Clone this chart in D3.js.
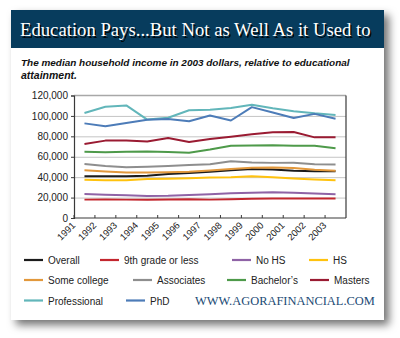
<!DOCTYPE html>
<html>
<head>
<meta charset="utf-8">
<script src="https://cdn.jsdelivr.net/npm/d3@7"></script>
<style>
  html, body { margin: 0; padding: 0; background: #ffffff; }
  svg { display: block; }
</style>
</head>
<body>
<svg id="chart" width="400" height="338"></svg>
<script>
// Median household income (2003 dollars) by educational attainment
const years = [1991, 1992, 1993, 1994, 1995, 1996, 1997, 1998, 1999, 2000, 2001, 2002, 2003];
const overall      = [40800, 40800, 40800, 41300, 43000, 44100, 45300, 46800, 48000, 47500, 46300, 45800, 45700];
const ninthOrLess  = [18000, 18200, 18000, 17900, 18100, 18300, 18000, 18300, 18800, 19000, 19000, 19000, 19100];
const noHS         = [23500, 22800, 22200, 21600, 21800, 22600, 23300, 24200, 24800, 25300, 24800, 24000, 23200];
const hs           = [37500, 37000, 37000, 38100, 38500, 39000, 39600, 39800, 40800, 40000, 38600, 37600, 36900];
const someCollege  = [46700, 45500, 44600, 44600, 44800, 45200, 46500, 48000, 49300, 49500, 49000, 47300, 46400];
const associates   = [53000, 51000, 49700, 50300, 51000, 52000, 52700, 55500, 54400, 54000, 54200, 52600, 52500];
const bachelors    = [64800, 64500, 64800, 65200, 64600, 64000, 67000, 70800, 71000, 71300, 70800, 70700, 68400];
const masters      = [72500, 75800, 76000, 75000, 78300, 74500, 77400, 79500, 82000, 83900, 84200, 79000, 79000];
const professional = [102800, 109000, 110300, 96400, 98200, 105500, 106100, 107800, 111000, 107500, 104500, 102500, 101000];
const phd          = [92700, 89800, 93100, 96300, 97000, 94700, 100400, 95500, 108600, 103400, 98000, 102000, 97300];

const seriesNames  = ["Overall", "9th grade or less", "No HS", "HS", "Some college", "Associates", "Bachelor\u2019s", "Masters", "Professional", "PhD"];
const seriesValues = [overall, ninthOrLess, noHS, hs, someCollege, associates, bachelors, masters, professional, phd];
const seriesColors = ["#1b1b1b", "#c3262e", "#8f63a6", "#ffc20e", "#e2983c", "#8e8e8e", "#4e9a4a", "#9a1b32", "#62b6ba", "#4d7cb8"];
const yTicks = [0, 20000, 40000, 60000, 80000, 100000, 120000];

const titleText = "Education Pays...But Not as Well As it Used to";
const subtitleLines = ["The median household income in 2003 dollars, relative to educational", "attainment."];
const siteText = "WWW.AGORAFINANCIAL.COM";

const svg = d3.select("#chart");
const sans = "'Liberation Sans', Arial, sans-serif";
const serif = "'Liberation Serif', 'Times New Roman', serif";

// ---- card with drop shadow ----
const defs = svg.append("defs");
const shadow = defs.append("filter").attr("id", "cardShadow")
  .attr("x", "-10%").attr("y", "-10%").attr("width", "125%").attr("height", "125%");
shadow.append("feDropShadow").attr("dx", 5).attr("dy", 5).attr("stdDeviation", 4)
  .attr("flood-color", "#000").attr("flood-opacity", 0.55);
const txtShadow = defs.append("filter").attr("id", "txtShadow");
txtShadow.append("feGaussianBlur").attr("stdDeviation", 0.6);

svg.append("rect").attr("x", 11).attr("y", 10).attr("width", 373).attr("height", 310)
  .attr("fill", "#ffffff").attr("filter", "url(#cardShadow)");

// header band
svg.append("rect").attr("x", 11).attr("y", 10).attr("width", 373).attr("height", 38)
  .attr("fill", "#073c5d");

function fitText(sel, targetWidth, baseSize) {
  sel.attr("font-size", baseSize);
  const w = sel.node().getComputedTextLength();
  if (w > 0) sel.attr("font-size", baseSize * targetWidth / w);
}

const titleShadow = svg.append("text").attr("x", 21.5).attr("y", 37.5)
  .attr("font-family", serif).attr("fill", "#000").attr("opacity", 0.85)
  .attr("filter", "url(#txtShadow)").text(titleText);
fitText(titleShadow, 351, 18.5);
const title = svg.append("text").attr("x", 20).attr("y", 36)
  .attr("font-family", serif).attr("fill", "#ffffff").text(titleText);
fitText(title, 351, 18.5);

// subtitle
subtitleLines.forEach((line, i) => {
  const t = svg.append("text").attr("x", 21).attr("y", 66 + i * 13.3)
    .attr("font-family", sans).attr("font-weight", "bold").attr("font-style", "italic")
    .attr("fill", "#111").text(line);
  if (i === 0) fitText(t, 329, 10.5);
  else t.attr("font-size", 10.5);
});

// ---- plot ----
const plot = { left: 74, right: 346, top: 95.5, bottom: 218 };

const x = d3.scaleBand().domain(years).range([plot.left, plot.right]).padding(0);
const y = d3.scaleLinear().domain([0, 120000]).range([plot.bottom, plot.top]);
const half = x.bandwidth() / 2;

// gridlines
svg.append("g")
  .attr("transform", `translate(${plot.left},0)`)
  .call(d3.axisLeft(y).tickValues(yTicks.slice(1, -1)).tickSize(-(plot.right - plot.left)).tickFormat(""))
  .call(g => g.select(".domain").remove())
  .call(g => g.selectAll("line").attr("stroke", "#c4c4c4").attr("stroke-width", 1));

// frame: top and right
svg.append("line").attr("x1", plot.left).attr("x2", plot.right).attr("y1", y(120000)).attr("y2", y(120000))
  .attr("stroke", "#a8a8a8").attr("stroke-width", 1.5);
svg.append("line").attr("x1", plot.right).attr("x2", plot.right).attr("y1", y(120000)).attr("y2", plot.bottom)
  .attr("stroke", "#3a3a3a").attr("stroke-width", 1.2);

// y axis
svg.append("g")
  .attr("transform", `translate(${plot.left},0)`)
  .call(d3.axisLeft(y).tickValues(yTicks).tickSize(3).tickPadding(3).tickFormat(d3.format(",")))
  .call(g => g.select(".domain").attr("stroke", "#3a3a3a").attr("stroke-width", 1.2))
  .call(g => g.selectAll("line").attr("stroke", "#3a3a3a"))
  .call(g => g.selectAll("text").attr("font-family", sans).attr("font-size", 10).attr("fill", "#222"));

// x axis: ticks sit on category boundaries, labels rotated
const xAxisG = svg.append("g").attr("transform", `translate(0,${plot.bottom})`);
xAxisG.append("line").attr("x1", plot.left).attr("x2", plot.right).attr("stroke", "#3a3a3a").attr("stroke-width", 1.2);
xAxisG.append("g")
  .attr("transform", `translate(${-half},0)`)
  .call(d3.axisBottom(x).tickSize(-3).tickPadding(0))
  .call(g => g.select(".domain").remove())
  .call(g => g.selectAll("line").attr("stroke", "#3a3a3a"))
  .call(g => g.selectAll("text")
    .attr("font-family", sans).attr("font-size", 9.5).attr("fill", "#222")
    .attr("text-anchor", "end").attr("dy", null).attr("y", 0)
    .attr("transform", "translate(2,8) rotate(-45)"));

// series lines
const line = d3.line()
  .x((d, i) => x(years[i]) + half)
  .y(d => y(d));

svg.append("g").selectAll("path")
  .data(seriesValues)
  .join("path")
  .attr("d", d => line(d))
  .attr("fill", "none")
  .attr("stroke", (d, i) => seriesColors[i])
  .attr("stroke-width", 2)
  .attr("stroke-linejoin", "round");

// ---- legend ----
const legendRows = [
  [0, 1, 2, 3],
  [4, 5, 6, 7],
  [8, 9]
];
const legendSwatchX = [
  [24, 100, 232, 309],
  [24, 133, 227, 310],
  [24, 126]
];
const legendY = [260, 280, 300.5];
const legend = svg.append("g");
legendRows.forEach((row, r) => {
  row.forEach((si, c) => {
    const sx = legendSwatchX[r][c];
    legend.append("line").attr("x1", sx).attr("x2", sx + 19)
      .attr("y1", legendY[r]).attr("y2", legendY[r])
      .attr("stroke", seriesColors[si]).attr("stroke-width", 2.2);
    legend.append("text").attr("x", sx + 24).attr("y", legendY[r] + 4)
      .attr("font-family", sans).attr("font-size", 10).attr("fill", "#222")
      .text(seriesNames[si]);
  });
});

const site = svg.append("text").attr("x", 195).attr("y", 304.5)
  .attr("font-family", serif).attr("fill", "#1b4a74").text(siteText);
fitText(site, 180, 12);
</script>
</body>
</html>
